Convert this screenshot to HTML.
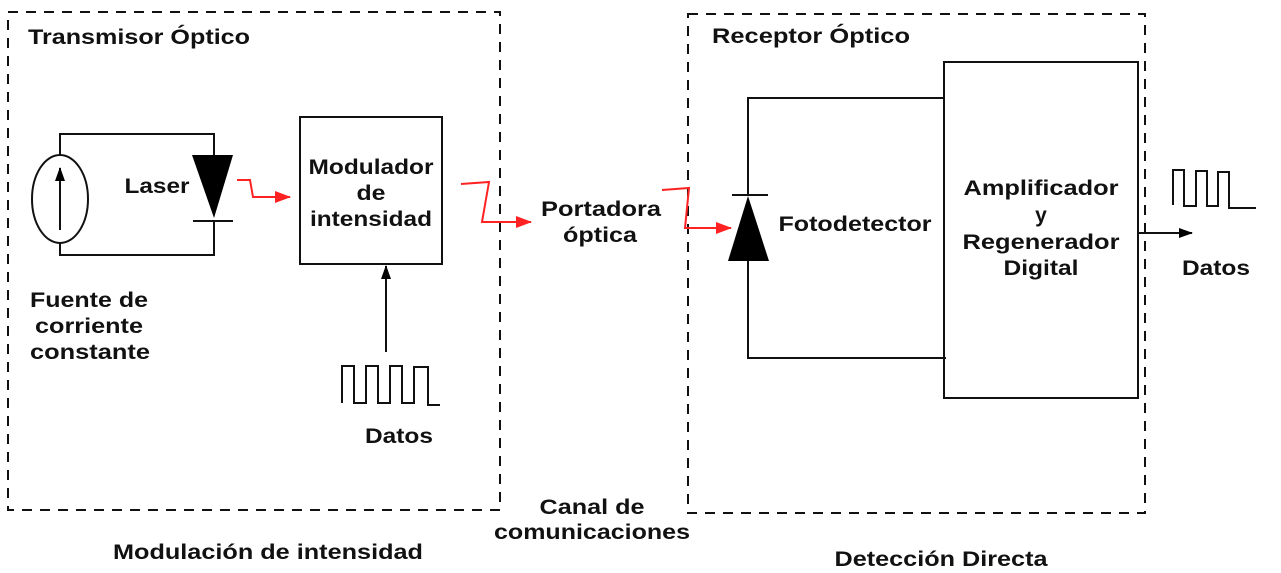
<!DOCTYPE html>
<html><head><meta charset="utf-8"><style>
html,body{margin:0;padding:0;background:#fff;}
svg{display:block;font-family:"Liberation Sans",sans-serif;font-weight:bold;}
</style></head><body>
<svg width="1281" height="573" viewBox="0 0 1281 573">
<defs>
<marker id="ar" markerWidth="16" markerHeight="12" refX="15" refY="6" orient="auto" markerUnits="userSpaceOnUse"><path d="M0,0 L16,6 L0,12 Z" fill="#f22"/></marker>
<marker id="ab" markerWidth="14" markerHeight="10" refX="13" refY="5" orient="auto" markerUnits="userSpaceOnUse"><path d="M0,0 L14,5 L0,10 Z" fill="#000"/></marker>
</defs>
<g fill="none" stroke="#111" stroke-width="2" stroke-dasharray="10,8">
<rect x="8" y="12" width="492" height="498"/>
<rect x="688" y="14" width="457" height="499"/>
</g>
<g fill="none" stroke="#111" stroke-width="2">
<ellipse cx="60" cy="199" rx="28" ry="44"/>
<path d="M60,155 V134 H214 V155 M60,243 V255 H214 V221"/>
<line x1="60" y1="230" x2="60" y2="168" marker-end="url(#ab)"/>
<line x1="193" y1="221" x2="233" y2="221"/>
<rect x="300" y="117" width="142" height="147"/>
<line x1="386" y1="352" x2="386" y2="266" marker-end="url(#ab)"/>
<path d="M342,403 V366 H354 V403 H366 V366 H378 V403 H390 V366 H402 V403 H414 V367 H428 V405 H440"/>
<path d="M944,98 H748 V195 M748,261 V358 H946"/>
<line x1="732" y1="195" x2="768" y2="195"/>
<rect x="944" y="62" width="194" height="336"/>
<line x1="1138" y1="233" x2="1192" y2="233" marker-end="url(#ab)"/>
<path d="M1173,205 V170 H1184 V206 H1196 V171 H1207 V206 H1218 V172 H1229 V208 H1256"/>
</g>
<path d="M192,155 H233 L214,218 Z" fill="#000"/>
<path d="M748,196 L769,261 H728 Z" fill="#000"/>
<g fill="none" stroke="#f22" stroke-width="2">
<path d="M237,180 H250 L253,197 H290" marker-end="url(#ar)"/>
<path d="M461,184 L489,182 L482,222 H531" marker-end="url(#ar)"/>
<path d="M662,190 L689,188 L685,228 H731" marker-end="url(#ar)"/>
</g>
<g font-size="21" fill="#111" text-anchor="middle">
<text x="139" y="44" textLength="222" lengthAdjust="spacingAndGlyphs">Transmisor Óptico</text>
<text x="811" y="43" textLength="198" lengthAdjust="spacingAndGlyphs">Receptor Óptico</text>
<text x="157" y="193" textLength="65" lengthAdjust="spacingAndGlyphs">Laser</text>
<text x="371" y="174" textLength="125" lengthAdjust="spacingAndGlyphs">Modulador</text>
<text x="371" y="200" textLength="29" lengthAdjust="spacingAndGlyphs">de</text>
<text x="371" y="226" textLength="122" lengthAdjust="spacingAndGlyphs">intensidad</text>
<text x="89" y="307" textLength="118" lengthAdjust="spacingAndGlyphs">Fuente de</text>
<text x="89" y="333" textLength="108" lengthAdjust="spacingAndGlyphs">corriente</text>
<text x="90" y="359" textLength="120" lengthAdjust="spacingAndGlyphs">constante</text>
<text x="399" y="443" textLength="68" lengthAdjust="spacingAndGlyphs">Datos</text>
<text x="601" y="216" textLength="120" lengthAdjust="spacingAndGlyphs">Portadora</text>
<text x="600" y="242" textLength="74" lengthAdjust="spacingAndGlyphs">óptica</text>
<text x="592" y="514" textLength="105" lengthAdjust="spacingAndGlyphs">Canal de</text>
<text x="592" y="539" textLength="196" lengthAdjust="spacingAndGlyphs">comunicaciones</text>
<text x="268" y="559" textLength="310" lengthAdjust="spacingAndGlyphs">Modulación de intensidad</text>
<text x="941" y="566" textLength="213" lengthAdjust="spacingAndGlyphs">Detección Directa</text>
<text x="855" y="231" textLength="153" lengthAdjust="spacingAndGlyphs">Fotodetector</text>
<text x="1041" y="195" textLength="155" lengthAdjust="spacingAndGlyphs">Amplificador</text>
<text x="1041" y="222">y</text>
<text x="1041" y="249" textLength="157" lengthAdjust="spacingAndGlyphs">Regenerador</text>
<text x="1041" y="275" textLength="75" lengthAdjust="spacingAndGlyphs">Digital</text>
<text x="1216" y="275" textLength="68" lengthAdjust="spacingAndGlyphs">Datos</text>
</g>
</svg>
</body></html>
